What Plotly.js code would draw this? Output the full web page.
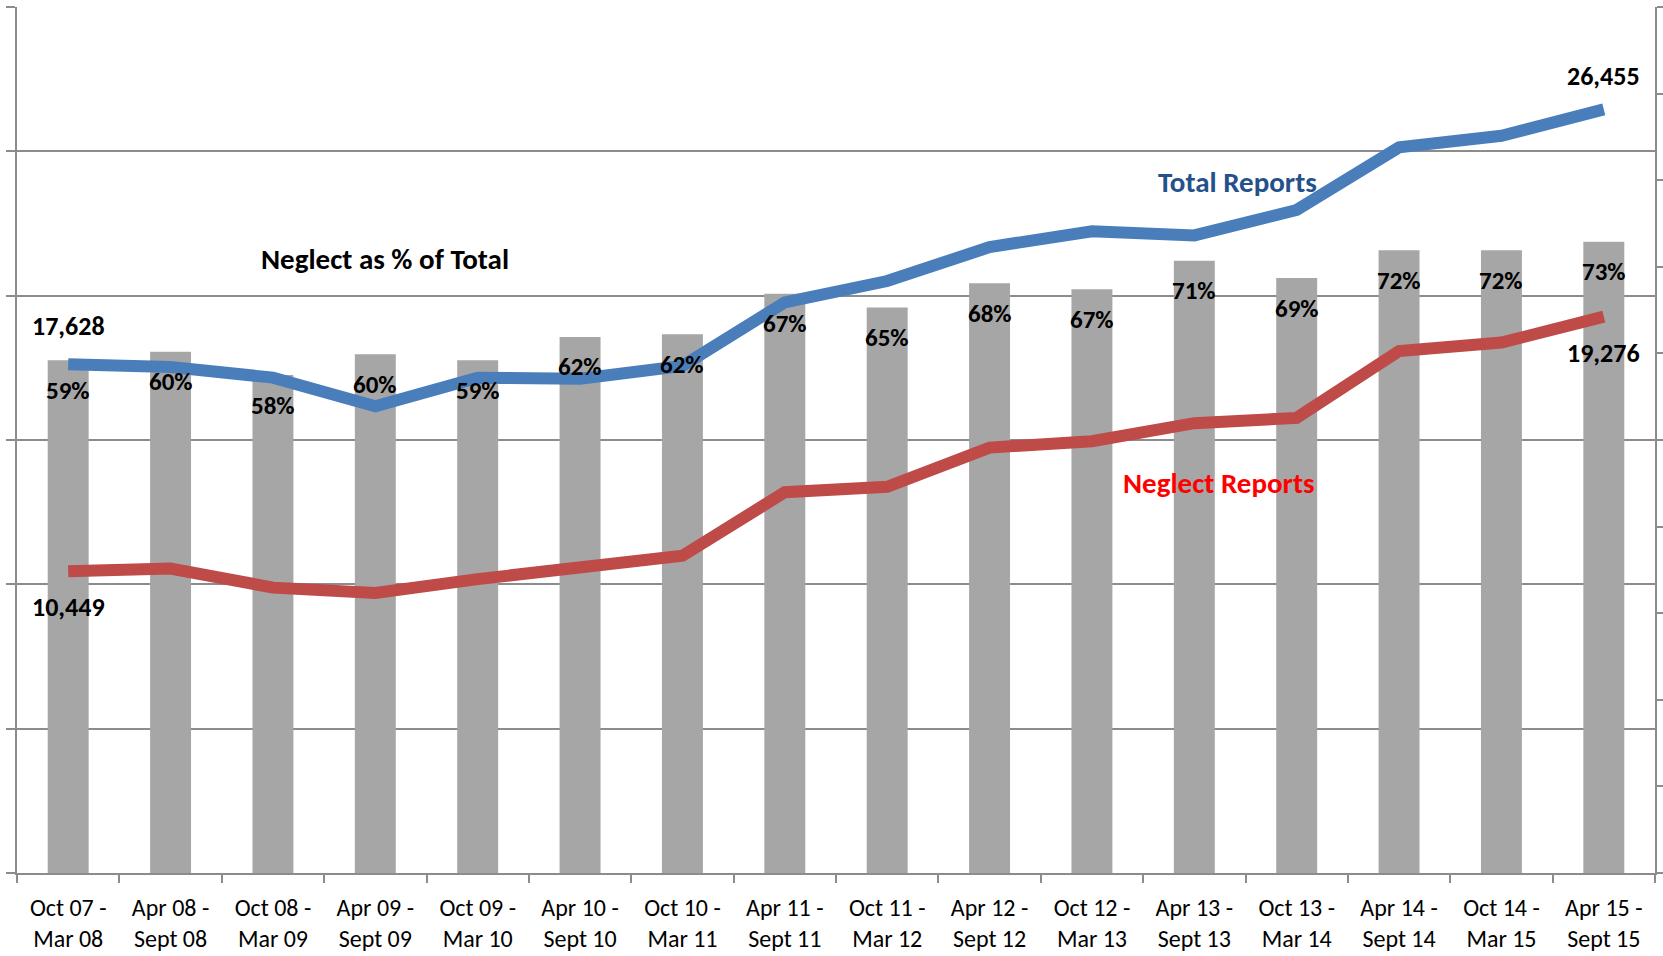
<!DOCTYPE html>
<html>
<head>
<meta charset="utf-8">
<script src="https://cdn.plot.ly/plotly-3.0.1.min.js"></script>
<style>
  html, body { margin: 0; padding: 0; background: #fff; }
  #chart { width: 1663px; height: 956px; }
</style>
</head>
<body>
<div id="chart"></div>
<script>
// Half-year periods
const periods = [
  "Oct 07 -<br>Mar 08", "Apr 08 -<br>Sept 08", "Oct 08 -<br>Mar 09", "Apr 09 -<br>Sept 09",
  "Oct 09 -<br>Mar 10", "Apr 10 -<br>Sept 10", "Oct 10 -<br>Mar 11", "Apr 11 -<br>Sept 11",
  "Oct 11 -<br>Mar 12", "Apr 12 -<br>Sept 12", "Oct 12 -<br>Mar 13", "Apr 13 -<br>Sept 13",
  "Oct 13 -<br>Mar 14", "Apr 14 -<br>Sept 14", "Oct 14 -<br>Mar 15", "Apr 15 -<br>Sept 15",
];

// Total reports
const totalReports = [
  17628, 17530, 17160, 16170, 17160, 17126, 17566, 19770,
  20508, 21682, 22233, 22087, 22968, 25136, 25538, 26455,
];

// Neglect reports
const neglectReports = [
  10449, 10548, 9886, 9703, 10181, 10586, 10988, 13193,
  13379, 14737, 14958, 15582, 15766, 18080, 18374, 19276,
];

// Neglect as share of total (bars)
const neglectShare = [
  0.592, 0.602, 0.575, 0.599, 0.592, 0.619, 0.622, 0.669,
  0.653, 0.681, 0.674, 0.707, 0.687, 0.719, 0.719, 0.729,
];
const shareLabels = [
  "59%", "60%", "58%", "60%", "59%", "62%", "62%", "67%",
  "65%", "68%", "67%", "71%", "69%", "72%", "72%", "73%",
];

const FONT = "Carlito, Calibri, Lato, sans-serif";
const GRID = "#8c8c8c";

const bars = {
  type: "bar",
  x: periods,
  y: neglectShare,
  yaxis: "y",
  marker: { color: "#a6a6a6", line: { width: 0 } },
  hoverinfo: "skip",
};

const totalLine = {
  type: "scatter",
  mode: "lines",
  x: periods,
  y: totalReports,
  yaxis: "y2",
  line: { color: "#4a7ebb", width: 12 },
  hoverinfo: "skip",
};

const neglectLine = {
  type: "scatter",
  mode: "lines",
  x: periods,
  y: neglectReports,
  yaxis: "y2",
  line: { color: "#be4b48", width: 12 },
  hoverinfo: "skip",
};

const pctFont = { family: FONT, size: 25, color: "#000", weight: "bold" };
const numFont = { family: FONT, size: 26, color: "#000", weight: "bold" };

// percent labels sit just under each bar top
const shareAnnotations = periods.map((p, i) => ({
  x: p, y: neglectShare[i], xref: "x", yref: "y",
  text: shareLabels[i], showarrow: false,
  yshift: -30, font: pctFont,
}));

const fmt = (v) => v.toLocaleString("en-US");
const last = periods.length - 1;

const valueAnnotations = [
  { x: periods[0], y: totalReports[0], yshift: 38, text: fmt(totalReports[0]) },
  { x: periods[0], y: neglectReports[0], yshift: -36, text: fmt(neglectReports[0]) },
  { x: periods[last], y: totalReports[last], yshift: 33, text: fmt(totalReports[last]) },
  { x: periods[last], y: neglectReports[last], yshift: -36, text: fmt(neglectReports[last]) },
].map((a) => ({ ...a, xref: "x", yref: "y2", showarrow: false, font: numFont }));

const seriesLabels = [
  { x: 0.745, y: 0.798, text: "Total Reports", color: "#24518b" },
  { x: 0.734, y: 0.450, text: "Neglect Reports", color: "#ff0000" },
  { x: 0.2247, y: 0.709, text: "Neglect as % of Total", color: "#000000" },
].map((a) => ({
  x: a.x, y: a.y, xref: "paper", yref: "paper", text: a.text, showarrow: false,
  xanchor: "center", yanchor: "middle",
  font: { family: FONT, size: 29, color: a.color, weight: "bold" },
}));

const layout = {
  width: 1663,
  height: 956,
  margin: { l: 17, r: 8, t: 7, b: 83 },
  paper_bgcolor: "#ffffff",
  plot_bgcolor: "#ffffff",
  showlegend: false,
  bargap: 0.6,
  font: { family: FONT, size: 24, color: "#000" },
  xaxis: {
    type: "category",
    tickson: "boundaries",
    ticks: "outside",
    ticklen: 8,
    tickcolor: GRID,
    tickwidth: 2,
    showline: true,
    linecolor: GRID,
    linewidth: 2,
    showgrid: false,
    ticklabelstandoff: 12,
    tickfont: { family: FONT, size: 24, color: "#000" },
  },
  yaxis: {
    side: "right",
    range: [0, 1],
    dtick: 0.1,
    ticks: "outside",
    ticklen: 8,
    tickcolor: GRID,
    tickwidth: 2,
    showline: true,
    linecolor: GRID,
    linewidth: 2,
    showgrid: false,
    zeroline: false,
    showticklabels: false,
  },
  yaxis2: {
    overlaying: "y",
    side: "left",
    range: [0, 30000],
    dtick: 5000,
    ticks: "outside",
    ticklen: 9,
    tickcolor: GRID,
    tickwidth: 2,
    showline: true,
    linecolor: GRID,
    linewidth: 2,
    showgrid: true,
    gridcolor: GRID,
    gridwidth: 2,
    zeroline: false,
    showticklabels: false,
  },
  annotations: [...shareAnnotations, ...valueAnnotations, ...seriesLabels],
};

Plotly.newPlot("chart", [bars, totalLine, neglectLine], layout, { staticPlot: true });
</script>
</body>
</html>
